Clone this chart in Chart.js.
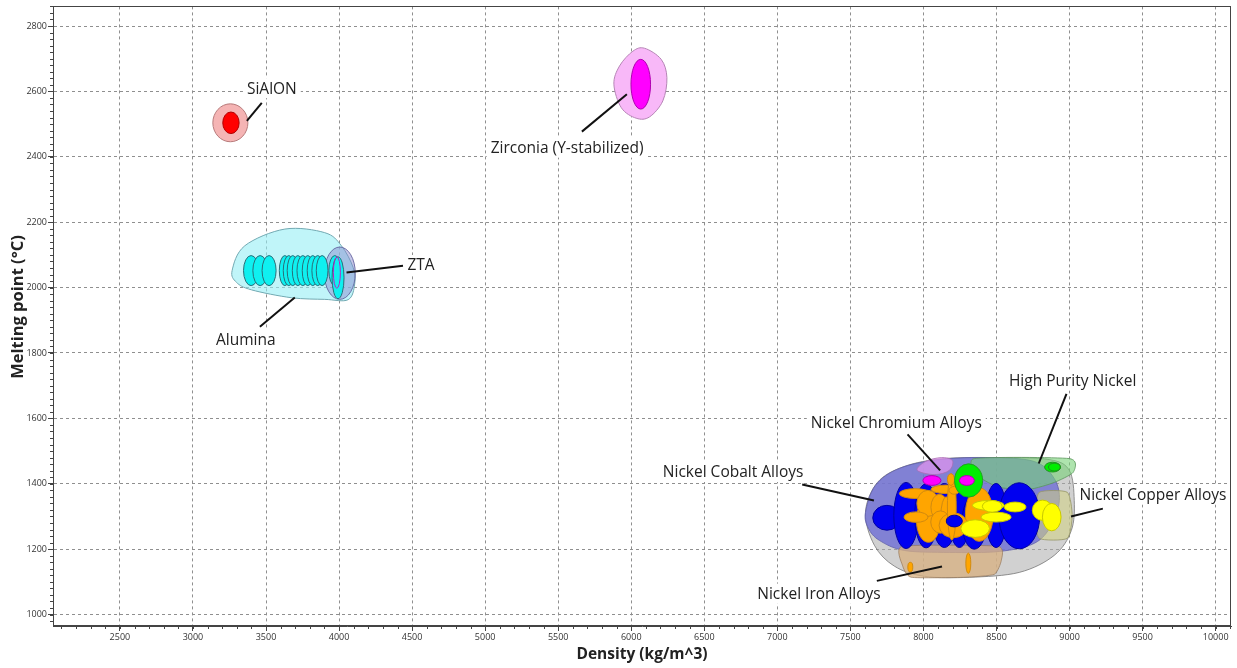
<!DOCTYPE html>
<html>
<head>
<meta charset="utf-8">
<title>Melting point vs density</title>
<script src="https://cdn.jsdelivr.net/npm/chart.js@4.4.1/dist/chart.umd.min.js"></script>
<style>
  html, body { margin: 0; padding: 0; background: #ffffff; }
  #wrap { width: 1237px; height: 668px; }
</style>
</head>
<body>
<div id="wrap"><canvas id="chart" width="1237" height="668"></canvas></div>
<script>
// ---- Axis tick values ----
const densityTicks = [2500, 3000, 3500, 4000, 4500, 5000, 5500, 6000, 6500, 7000, 7500, 8000, 8500, 9000, 9500, 10000];
const meltingTicks = [1000, 1200, 1400, 1600, 1800, 2000, 2200, 2400, 2600, 2800];

// ---- Family envelopes: [density kg/m^3, melting point °C] around each family ----
const zirconiaOutline = [[6091, 2732], [6205, 2698], [6244, 2642], [6216, 2571], [6125, 2522], [6034, 2518], [5932, 2550], [5881, 2622], [5920, 2678], [6011, 2723]];
const aluminaOutline = [[3268, 2052], [3355, 2128], [3629, 2179], [3902, 2168], [4016, 2128], [4096, 2062], [4107, 2011], [4062, 1963], [3902, 1964], [3674, 1969], [3401, 1993], [3298, 2016]];
const nickelOutline = [[7603, 1312], [7685, 1404], [7869, 1453], [8143, 1477], [8519, 1480], [8861, 1474], [8998, 1441], [9032, 1349], [9012, 1257], [8895, 1181], [8656, 1129], [8314, 1114], [8006, 1117], [7801, 1148], [7664, 1212]];
const nickelCobaltOutline = [[7603, 1312], [7671, 1395], [7835, 1447], [8109, 1474], [8451, 1480], [8759, 1468], [8895, 1416], [8930, 1349], [8875, 1273], [8759, 1218], [8519, 1193], [8177, 1190], [7869, 1196], [7698, 1227], [7623, 1264]];
const nickelIronOutline = [[7856, 1209], [8506, 1209], [8533, 1166], [8485, 1123], [8280, 1114], [7917, 1114], [7856, 1151]];
const highPurityNickelOutline = [[8348, 1477], [8998, 1477], [9025, 1435], [8895, 1404], [8724, 1383], [8519, 1389], [8382, 1422]];
const nickelChromiumOutline = [[7958, 1441], [8013, 1468], [8122, 1480], [8198, 1471], [8177, 1441], [8075, 1428]];
const nickelCopperOutline = [[8793, 1374], [8984, 1374], [9018, 1303], [8984, 1233], [8793, 1233], [8765, 1303]];

// ---- Grades: [density, melting point, density half-range, melting half-range] ----
const sialonRange = [[3256, 2504, 120, 58]];
const sialonGrades = [[3260, 2504, 56, 33]];
const zirconiaGrades = [[6065, 2622, 67, 76]];
const ztaRange = [[4005, 2044, 106, 80]];
const aluminaGrades = [
  [3398, 2052, 52, 46], [3460, 2052, 50, 46], [3521, 2052, 48, 46],
  [3629, 2052, 38, 46], [3656, 2052, 38, 46], [3683, 2052, 38, 46], [3718, 2052, 38, 46],
  [3752, 2052, 40, 46], [3786, 2052, 38, 46], [3820, 2052, 38, 46], [3854, 2052, 40, 46],
  [3884, 2052, 40, 46], [3971, 2052, 41, 46], [3993, 2030, 41, 64]
];
const ztaGrades = [[3985, 2046, 24, 48]];
const nickelCobaltGrades = [
  [7750, 1296, 97, 38], [7881, 1303, 84, 101], [8018, 1302, 78, 98], [8143, 1303, 84, 98],
  [8246, 1303, 72, 98], [8348, 1282, 84, 82], [8497, 1303, 72, 98], [8656, 1302, 140, 101]
];
const nickelChromiumGrades = [
  [7943, 1370, 108, 15], [8155, 1383, 103, 13], [8034, 1288, 82, 67], [8030, 1340, 75, 40],
  [7949, 1298, 82, 16], [8382, 1306, 95, 82], [8109, 1328, 58, 40], [8155, 1300, 36, 60],
  [8116, 1283, 66, 34], [8205, 1273, 98, 38], [8194, 1329, 30, 101], [8188, 1413, 24, 18],
  [8211, 1380, 36, 12]
];
const nickelCobaltCore = [[8211, 1286, 55, 18]];
const nickelIronGrades = [[7910, 1145, 17, 15], [8307, 1157, 17, 31]];
const nickelCopperGrades = [
  [8444, 1334, 109, 15], [8471, 1331, 68, 18], [8497, 1298, 103, 15], [8627, 1329, 75, 15],
  [8354, 1263, 98, 27], [8815, 1319, 70, 31], [8878, 1298, 64, 42]
];
const otherNickelGrades = [[8309, 1410, 96, 51]];
const otherNickelCores = [[8297, 1410, 51, 15], [8058, 1410, 62, 15]];
const highPurityNickelGrades = [[8884, 1451, 55, 15], [8896, 1451, 41, 12]];

// ---- Family names shown as callouts ----
const familyNames = ['SiAlON', 'Zirconia (Y-stabilized)', 'Alumina', 'ZTA', 'Nickel Chromium Alloys',
  'Nickel Cobalt Alloys', 'High Purity Nickel', 'Nickel Copper Alloys', 'Nickel Iron Alloys'];

// Callout placement (data space): text centre, leader start, leader end
const calloutPlacement = [
  { text: [3540, 2610], from: [3471, 2565], to: [3369, 2510] },
  { text: [5561, 2428], from: [5662, 2477], to: [5970, 2591] },
  { text: [3362, 1840], from: [3458, 1880], to: [3697, 1970] },
  { text: [4561, 2069], from: [4438, 2067], to: [4051, 2046] },
  { text: [7814, 1588], from: [7891, 1551], to: [8114, 1441] },
  { text: [6697, 1436], from: [7170, 1398], to: [7661, 1349] },
  { text: [9021, 1716], from: [8979, 1675], to: [8789, 1462] },
  { text: [9571, 1367], from: [9228, 1324], to: [9010, 1300] },
  { text: [7285, 1064], from: [7681, 1103], to: [8127, 1147] }
];

// ---- Dataset builders ----
function outlineSet(label, rows, fill, stroke, smooth) {
  return {
    label, kind: 'outline', smooth: smooth,
    data: rows.map(r => ({ x: r[0], y: r[1] })),
    fillColor: fill, strokeColor: stroke,
    pointRadius: 0, pointHoverRadius: 0, showLine: false
  };
}
function ellipseSet(label, rows, fill, stroke) {
  return {
    label, kind: 'ellipse',
    data: rows.map(r => ({ x: r[0], y: r[1], dx: r[2], dy: r[3] })),
    fillColor: fill, strokeColor: stroke,
    pointRadius: 0, pointHoverRadius: 0, showLine: false
  };
}

const datasets = [
  ellipseSet('SiAlON range', sialonRange, '#f5b4b4', '#b77a7a'),
  ellipseSet('SiAlON', sialonGrades, '#ff0000', '#b00000'),
  outlineSet('Zirconia range', zirconiaOutline, '#f8b8f8', '#b585b5', 1),
  ellipseSet('Zirconia (Y-stabilized)', zirconiaGrades, '#ff00ff', '#b000b0'),
  outlineSet('Alumina range', aluminaOutline, 'rgba(150,238,245,0.6)', '#72a9b2', 1),
  ellipseSet('ZTA range', ztaRange, 'rgba(130,130,205,0.45)', 'rgba(100,100,160,0.9)'),
  ellipseSet('Alumina', aluminaGrades, '#0ff0f0', '#2b6d78'),
  ellipseSet('ZTA', ztaGrades, 'rgba(0,0,0,0)', '#c020c0'),
  outlineSet('Nickel family', nickelOutline, 'rgba(172,172,172,0.55)', 'rgba(120,120,120,0.8)', 1),
  outlineSet('Nickel Cobalt range', nickelCobaltOutline, 'rgba(108,108,214,0.78)', 'rgba(95,95,170,0.8)', 1),
  outlineSet('Nickel Iron range', nickelIronOutline, 'rgba(216,176,128,0.75)', 'rgba(150,120,90,0.7)', 0.5),
  outlineSet('High Purity Nickel range', highPurityNickelOutline, 'rgba(120,210,120,0.6)', 'rgba(90,150,90,0.8)', 0.6),
  outlineSet('Nickel Chromium range', nickelChromiumOutline, 'rgba(230,150,240,0.7)', 'rgba(170,110,180,0.8)', 1),
  outlineSet('Nickel Copper range', nickelCopperOutline, 'rgba(210,210,130,0.55)', 'rgba(150,150,100,0.8)', 0.6),
  ellipseSet('Nickel Cobalt Alloys', nickelCobaltGrades, '#0000f0', '#0000a0'),
  ellipseSet('Nickel Chromium Alloys', nickelChromiumGrades, '#ffa500', '#d08a10'),
  ellipseSet('Nickel Cobalt core', nickelCobaltCore, '#0000f0', '#0000a0'),
  ellipseSet('Nickel Iron Alloys', nickelIronGrades, '#ffa500', '#d08a10'),
  ellipseSet('Nickel Copper Alloys', nickelCopperGrades, '#ffff00', '#c8c800'),
  ellipseSet('Other nickel', otherNickelGrades, '#00ee00', '#20a020'),
  ellipseSet('Other nickel core', otherNickelCores, '#ff00ff', '#b000b0'),
  ellipseSet('High Purity Nickel', highPurityNickelGrades, '#00ee00', '#209020')
];

// Closed Catmull-Rom curve through the outline points
function traceClosed(ctx, pts, k) {
  const n = pts.length;
  ctx.moveTo(pts[0].x, pts[0].y);
  for (let i = 0; i < n; i++) {
    const p0 = pts[(i - 1 + n) % n], p1 = pts[i], p2 = pts[(i + 1) % n], p3 = pts[(i + 2) % n];
    const c1x = p1.x + (p2.x - p0.x) * k / 6, c1y = p1.y + (p2.y - p0.y) * k / 6;
    const c2x = p2.x - (p3.x - p1.x) * k / 6, c2y = p2.y - (p3.y - p1.y) * k / 6;
    ctx.bezierCurveTo(c1x, c1y, c2x, c2y, p2.x, p2.y);
  }
  ctx.closePath();
}

const shapesPlugin = {
  id: 'shapes',
  beforeDatasetsDraw(chart) {
    const { ctx, chartArea: a, scales: { x, y } } = chart;
    ctx.save();
    ctx.beginPath();
    ctx.rect(a.left, a.top, a.right - a.left, a.bottom - a.top);
    ctx.clip();
    ctx.lineWidth = 1;
    chart.data.datasets.forEach(ds => {
      ctx.fillStyle = ds.fillColor;
      ctx.strokeStyle = ds.strokeColor;
      if (ds.kind === 'outline') {
        const pts = ds.data.map(p => ({ x: x.getPixelForValue(p.x), y: y.getPixelForValue(p.y) }));
        ctx.beginPath();
        traceClosed(ctx, pts, ds.smooth);
        ctx.fill();
        ctx.stroke();
      } else if (ds.kind === 'ellipse') {
        ds.data.forEach(p => {
          const cx = x.getPixelForValue(p.x), cy = y.getPixelForValue(p.y);
          const rx = Math.abs(x.getPixelForValue(p.x + p.dx) - cx);
          const ry = Math.abs(y.getPixelForValue(p.y + p.dy) - cy);
          ctx.beginPath();
          ctx.ellipse(cx, cy, rx, ry, 0, 0, Math.PI * 2);
          ctx.fill();
          ctx.stroke();
        });
      }
    });
    ctx.restore();
  },
  afterDatasetsDraw(chart) {
    const { ctx, scales: { x, y } } = chart;
    ctx.save();
    ctx.font = '15.5px "Open Sans"';
    ctx.textAlign = 'center';
    ctx.textBaseline = 'middle';
    familyNames.forEach((name, i) => {
      const c = calloutPlacement[i];
      const x1 = x.getPixelForValue(c.from[0]), y1 = y.getPixelForValue(c.from[1]);
      const x2 = x.getPixelForValue(c.to[0]), y2 = y.getPixelForValue(c.to[1]);
      ctx.strokeStyle = '#111';
      ctx.lineWidth = 2;
      ctx.beginPath();
      ctx.moveTo(x1, y1);
      ctx.lineTo(x2, y2);
      ctx.stroke();
      const tx = x.getPixelForValue(c.text[0]), ty = y.getPixelForValue(c.text[1]);
      const w = ctx.measureText(name).width;
      ctx.fillStyle = '#ffffff';
      ctx.fillRect(tx - w / 2 - 4, ty - 10, w + 8, 20);
      ctx.fillStyle = '#222';
      ctx.fillText(name, tx, ty + 1);
    });
    ctx.restore();
  },
  afterDraw(chart) {
    const { ctx, chartArea: a, scales: { x, y } } = chart;
    ctx.save();
    ctx.strokeStyle = '#444';
    ctx.lineWidth = 1;
    ctx.beginPath();
    // minor ticks every 100 kg/m^3 and every 20 °C
    for (let v = 2100; v <= 10100; v += 100) {
      const px = Math.round(x.getPixelForValue(v)) + 0.5;
      if (px < a.left || px > a.right) continue;
      ctx.moveTo(px, a.bottom);
      ctx.lineTo(px, a.bottom + 3);
    }
    for (let v = 980; v <= 2860; v += 20) {
      const py = Math.round(y.getPixelForValue(v)) + 0.5;
      if (py < a.top || py > a.bottom) continue;
      ctx.moveTo(a.left, py);
      ctx.lineTo(a.left - 3, py);
    }
    ctx.stroke();
    ctx.strokeRect(Math.round(a.left) + 0.5, Math.round(a.top) + 0.5,
      Math.round(a.right - a.left) - 1, Math.round(a.bottom - a.top) - 1);

    // vertical axis title
    ctx.translate(18, 307);
    ctx.rotate(-Math.PI / 2);
    ctx.font = 'bold 16.5px "Open Sans"';
    ctx.fillStyle = '#222';
    ctx.textAlign = 'center';
    ctx.textBaseline = 'middle';
    ctx.fillText('Melting point (°C)', 0, 0);
    ctx.restore();
  }
};

const tickFont = { family: 'Open Sans', size: 9 };
const titleFont = { family: 'Open Sans', size: 15.5, weight: 'bold' };

new Chart(document.getElementById('chart'), {
  type: 'scatter',
  data: { datasets },
  options: {
    responsive: false,
    animation: false,
    devicePixelRatio: 1,
    events: [],
    layout: { padding: { top: 5, right: 6, left: 0, bottom: 0 } },
    plugins: { legend: { display: false }, tooltip: { enabled: false } },
    scales: {
      x: {
        type: 'linear', min: 2042, max: 10105,
        afterBuildTicks: s => { s.ticks = densityTicks.map(v => ({ value: v })); },
        afterFit: s => { s.height = 42; },
        ticks: { font: tickFont, color: '#333', padding: 1, maxRotation: 0, autoSkip: false, callback: v => String(v) },
        grid: { color: '#8f8f8f', lineWidth: 1, tickColor: '#444', tickLength: 5 },
        border: { display: true, color: '#444', dash: [3, 3] },
        title: { display: true, text: 'Density (kg/m^3)', font: titleFont, color: '#222', padding: { top: 0, bottom: 4 } }
      },
      y: {
        type: 'linear', min: 965, max: 2860,
        afterBuildTicks: s => { s.ticks = meltingTicks.map(v => ({ value: v })); },
        afterFit: s => { s.width = 53; },
        ticks: { font: tickFont, color: '#333', padding: 1, autoSkip: false, callback: v => String(v) },
        grid: { color: '#8f8f8f', lineWidth: 1, tickColor: '#444', tickLength: 5 },
        border: { display: true, color: '#444', dash: [3, 3] },
        title: { display: false }
      }
    }
  },
  plugins: [shapesPlugin]
});
</script>
</body>
</html>
